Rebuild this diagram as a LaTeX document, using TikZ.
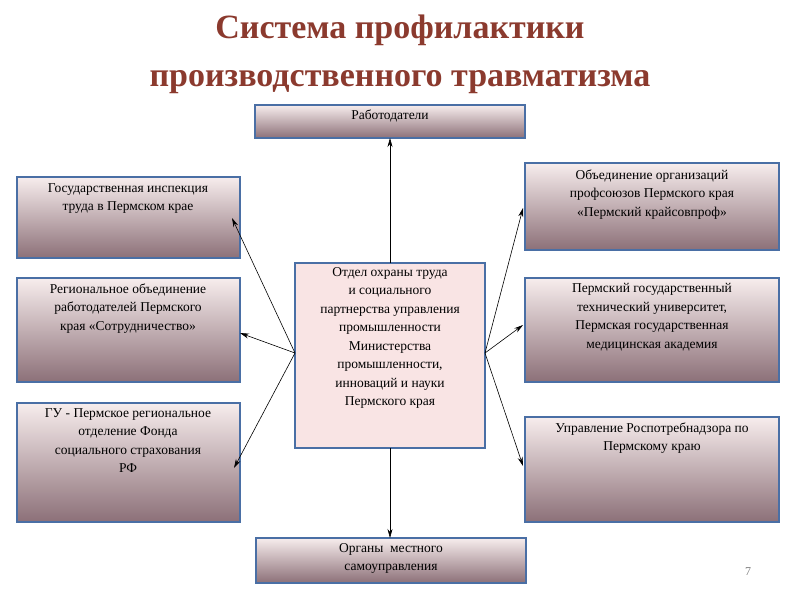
\documentclass[tikz,border=0pt]{standalone}
\usepackage{fontspec}
\setmainfont{Liberation Serif}
\usetikzlibrary{arrows.meta}
\definecolor{tred}{HTML}{8B3A2E}
\definecolor{bord}{HTML}{4A6FA5}
\definecolor{topc}{HTML}{F7EDED}
\definecolor{botc}{HTML}{8C7078}
\begin{document}
\begin{tikzpicture}[x=1pt,y=-1pt,
  gbox/.style={draw=bord,line width=1.2pt,top color=topc,bottom color=botc},
  txt/.style={font=\fontsize{13.5}{18.5}\selectfont,align=center,anchor=north},
  arr/.style={-{Stealth[length=9pt,width=5pt]},line width=0.6pt}]
\useasboundingbox (0,0) rectangle (800,600);
\node[font=\fontsize{34}{48}\selectfont\bfseries,text=tred,align=center] (title) at (400,54) {Система профилактики\\производственного травматизма};
\draw[gbox] (255,105) rectangle (525,138); \coordinate (top) at (390,138);
\node[txt] (t0) at (390,106) {Работодатели};
\draw[gbox] (17,177) rectangle (240,258);
\node[txt] (l1) at (128,180) {Государственная инспекция\\труда в Пермском крае};
\draw[gbox] (17,278) rectangle (240,382);
\node[txt] (l2) at (128,280) {Региональное объединение\\работодателей Пермского\\края «Сотрудничество»};
\draw[gbox] (17,403) rectangle (240,522);
\node[txt] (l3) at (128,405) {ГУ - Пермское региональное\\отделение Фонда\\социального страхования\\РФ};
\draw[gbox] (525,163) rectangle (779,250);
\node[txt] (r1) at (652,166) {Объединение организаций\\профсоюзов Пермского края\\«Пермский крайсовпроф»};
\draw[gbox] (525,278) rectangle (779,382);
\node[txt] (r2) at (652,280) {Пермский государственный\\технический университет,\\Пермская государственная\\медицинская академия};
\draw[gbox] (525,417) rectangle (779,522);
\node[txt] (r3) at (652,419) {Управление Роспотребнадзора по\\Пермскому краю};
\draw[gbox] (256,538) rectangle (526,583);
\node[txt] (b) at (391,540) {Органы\ \ местного\\самоуправления};
\draw[draw=bord,line width=1.2pt,fill=topc!80!pink] (295,263) rectangle (485,448);
\node[txt] (c) at (390,264) {Отдел охраны труда\\и социального\\партнерства управления\\промышленности\\Министерства\\промышленности,\\инноваций и науки\\Пермского края};
\coordinate (cT) at (390,263); \coordinate (cB) at (390,448);
\coordinate (cL) at (295,353); \coordinate (cR) at (485,353);
\coordinate (aL1) at (232,218); \coordinate (aL2) at (240,333); \coordinate (aL3) at (234,468);
\coordinate (aR1) at (523,208); \coordinate (aR2) at (523,325); \coordinate (aR3) at (523,466);
\coordinate (bot) at (390,538);
\draw[arr] (cT) -- (top);
\draw[arr] (cB) -- (bot);
\foreach \p in {aL1,aL2,aL3} \draw[arr] (cL) -- (\p);
\foreach \p in {aR1,aR2,aR3} \draw[arr] (cR) -- (\p);
\node[text=gray,font=\fontsize{12}{14}\selectfont] (pg) at (748,572) {7};
\end{tikzpicture}
\end{document}
